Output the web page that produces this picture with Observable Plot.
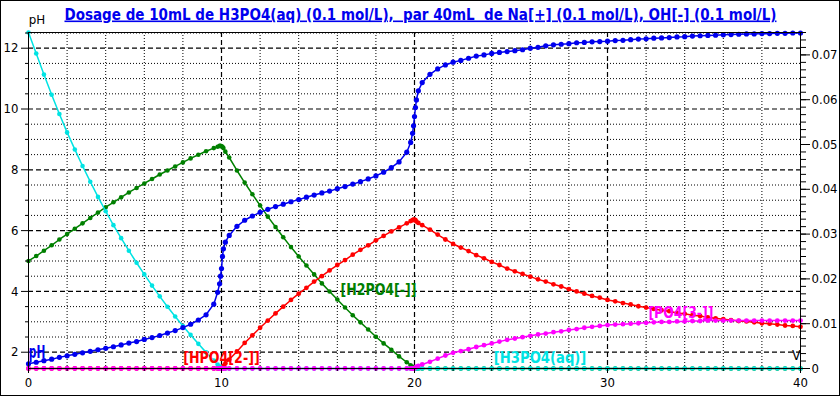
<!DOCTYPE html>
<html>
<head>
<meta charset="utf-8">
<script src="https://cdn.jsdelivr.net/npm/d3@7"></script>
<script src="https://cdn.jsdelivr.net/npm/@observablehq/plot@0.6"></script>
<style>
  html, body { margin: 0; padding: 0; background: #fff; }
  #chart svg { display: block; outline: 1px solid #000; outline-offset: -1px; }
  #chart svg g[aria-label="x-axis tick label"],
  #chart svg g[aria-label="y-axis tick label"] { font-size: 13px; }
</style>
</head>
<body>
<div id="chart"></div>
<script>
// ---- data ----
const title = "Dosage de 10mL de H3PO4(aq) (0.1 mol/L),  par 40mL  de Na[+] (0.1 mol/L), OH[-] (0.1 mol/L)";

// added volume (mL)
const V = [
  0,0.4,0.8,1.2,1.6, 2,2.4,2.8,3.2,3.6, 4,4.4,4.8,5.2,5.6, 6,6.4,6.8,7.2,7.6, 8,8.4,8.8,9.2,9.6,
  9.8,9.9,9.95,10,10.05,10.1,10.2,
  10.4,10.8,11.2,11.6,12,12.4, 12.8,13.2,13.6,14,14.4,14.8, 15.2,15.6,16,16.4,16.8,17.2, 17.6,18,18.4,18.8,19.2,19.6,
  19.8,19.9,19.95,20,20.05,20.1,20.2,
  20.4,20.8,21.2,21.6,22, 22.4,22.8,23.2,23.6,24, 24.4,24.8,25.2,25.6,26, 26.4,26.8,27.2,27.6,28, 28.4,28.8,29.2,29.6,30,
  30.4,30.8,31.2,31.6,32, 32.4,32.8,33.2,33.6,34, 34.4,34.8,35.2,35.6,36, 36.4,36.8,37.2,37.6,38, 38.4,38.8,39.2,39.6,40
];
// pH (left axis)
const pH = [
  1.62,1.67,1.72,1.77,1.83, 1.88,1.93,1.98,2.03,2.08, 2.13,2.18,2.24,2.30,2.35, 2.42,2.48,2.55,2.63,2.71, 2.81,2.92,3.06,3.23,3.58,
  3.97,4.25,4.5,4.75,5.15,5.4,5.62,
  5.84,6.14,6.34,6.48,6.60,6.70, 6.79,6.87,6.95,7.02,7.10,7.17, 7.24,7.30,7.38,7.45,7.53,7.61, 7.70,7.80,7.92,8.07,8.26,8.58,
  8.9,9.2,9.45,9.75,10.05,10.3,10.6,
  10.87,11.14,11.32,11.45,11.54, 11.60,11.67,11.74,11.78,11.83, 11.86,11.89,11.92,11.95,12.00, 12.03,12.08,12.11,12.13,12.15, 12.18,12.19,12.21,12.22,12.23,
  12.25,12.26,12.28,12.30,12.31, 12.33,12.34,12.35,12.37,12.38, 12.40,12.41,12.42,12.43,12.44, 12.45,12.46,12.47,12.47,12.48, 12.48,12.49,12.49,12.50,12.50
];
// concentrations (mol/L, right axis)
const cH3PO4 = [
  0.075,0.0703,0.0656,0.0611,0.0568, 0.0527,0.0489,0.0452,0.0417,0.0383, 0.0351,0.0320,0.0291,0.0263,0.0236, 0.0210,0.0185,0.0161,0.0138,0.0116, 0.0095,0.0075,0.0055,0.0036,0.0018,
  0.0009,0.00045,0.0002,0.00005,0,0,0,
  0,0,0,0,0,0, 0,0,0,0,0,0, 0,0,0,0,0,0, 0,0,0,0,0,0,
  0,0,0,0,0,0,0,
  0,0,0,0,0, 0,0,0,0,0, 0,0,0,0,0, 0,0,0,0,0, 0,0,0,0,0,
  0,0,0,0,0, 0,0,0,0,0, 0,0,0,0,0, 0,0,0,0,0, 0,0,0,0,0
];
const cH2PO4 = [
  0.0240,0.0251,0.0263,0.0275,0.0288, 0.0300,0.0312,0.0324,0.0336,0.0348, 0.0360,0.0371,0.0382,0.0393,0.0403, 0.0413,0.0423,0.0433,0.0442,0.0451, 0.0460,0.0469,0.0477,0.0485,0.0492,
  0.0495,0.0497,0.0497,0.0496,0.0495,0.0492,0.0484,
  0.0471,0.0442,0.0415,0.0389,0.0364,0.0339, 0.0316,0.0293,0.0271,0.0250,0.0230,0.0210, 0.0190,0.0172,0.0154,0.0136,0.0119,0.0103, 0.0087,0.0071,0.0056,0.0042,0.0027,0.0014,
  0.0007,0.0004,0.0003,0.0001,0,0,0,
  0,0,0,0,0, 0,0,0,0,0, 0,0,0,0,0, 0,0,0,0,0, 0,0,0,0,0,
  0,0,0,0,0, 0,0,0,0,0, 0,0,0,0,0, 0,0,0,0,0, 0,0,0,0,0
];
const cHPO4 = [
  0,0,0,0,0, 0,0,0,0,0, 0,0,0,0,0, 0,0,0,0,0, 0,0,0,0,0,
  0,0,0.0001,0.0002,0.0004,0.0006,0.0011,
  0.0020,0.0038,0.0057,0.0074,0.0091,0.0107, 0.0123,0.0138,0.0153,0.0167,0.0180,0.0194, 0.0206,0.0219,0.0231,0.0242,0.0254,0.0265, 0.0275,0.0286,0.0296,0.0306,0.0315,0.0324,
  0.0329,0.0331,0.0332,0.0332,0.0331,0.0328,0.0325,
  0.0320,0.0310,0.0299,0.0288,0.0278, 0.0270,0.0262,0.0253,0.0246,0.0238, 0.0231,0.0223,0.0217,0.0211,0.0205, 0.0199,0.0194,0.0188,0.0183,0.0177, 0.0172,0.0167,0.0162,0.0158,0.0153,
  0.0150,0.0146,0.0143,0.0139,0.0136, 0.0133,0.0130,0.0128,0.0124,0.0122, 0.0119,0.0117,0.0114,0.0112,0.0110, 0.0108,0.0106,0.0105,0.0103,0.0101, 0.0100,0.0098,0.0096,0.0095,0.0093
];
const cPO4 = [
  0,0,0,0,0, 0,0,0,0,0, 0,0,0,0,0, 0,0,0,0,0, 0,0,0,0,0,
  0,0,0,0,0,0,0,
  0,0,0,0,0,0, 0,0,0,0,0,0, 0,0,0,0,0,0, 0,0,0,0,0,0,
  0,0,0,0,0.0002,0.0004,0.0006,
  0.0009,0.0015,0.0022,0.0029,0.0035, 0.0039,0.0043,0.0048,0.0052,0.0056, 0.0060,0.0064,0.0067,0.0070,0.0073, 0.0076,0.0078,0.0081,0.0083,0.0086, 0.0088,0.0091,0.0093,0.0095,0.0097,
  0.0098,0.0099,0.0100,0.0101,0.0102, 0.0103,0.0104,0.0104,0.0105,0.0105, 0.0106,0.0106,0.0107,0.0107,0.0107, 0.0107,0.0107,0.0107,0.0107,0.0107, 0.0107,0.0107,0.0107,0.0107,0.0107
];

// tick labels
const xTickLabels = [0, 10, 20, 30, 40];
const pHTickLabels = [2, 4, 6, 8, 10, 12];
const concTickLabels = [0, 0.01, 0.02, 0.03, 0.04, 0.05, 0.06, 0.07];
const speciesLabels = ["[H2PO4[-]]", "[HPO4[2-]]", "[H3PO4(aq)]", "[PO4[3-]]"];

// ---- drawing ----
const FONT = "'DejaVu Sans Condensed', 'DejaVu Sans', sans-serif";
const COL = {pH: "#0000ee", H3PO4: "#00e3e3", H2PO4: "#008000", HPO4: "#ff0000", PO4: "#ff00ff"};

// pH axis (left) mapped onto the concentration axis (right)
const toC = d3.scaleLinear().domain([1.464, 12.517]).range([0, 0.075]);

const rows = vals => V.map((v, i) => ({V: v, c: vals[i]}));
const series = [
  {key: "H2PO4", rows: rows(cH2PO4), r: 2.3},
  {key: "HPO4", rows: rows(cHPO4), r: 2.4},
  {key: "H3PO4", rows: rows(cH3PO4), r: 2.3},
  {key: "PO4", rows: rows(cPO4), r: 2.4},
  {key: "pH", rows: rows(pH.map(toC)), r: 2.6}
];

const xMinor = d3.range(2, 40, 2).filter(d => d % 10 !== 0);
const xMajor = [10, 20, 30];
const pHHalf = d3.range(2, 12.51, 0.5);
const pHMinor = pHHalf.filter(d => d % 2 !== 0);
const concMinor = d3.range(0, 0.0751, 0.01 / 6);

const dotted = {stroke: "#000", strokeWidth: 1, strokeDasharray: "1,2"};
const dashed = {stroke: "#000", strokeWidth: 1.2, strokeDasharray: "5,3"};

const labelMarks = [
  {text: title, x: 20.31, y: 0.0779, fill: COL.pH, size: 16, bold: true, anchor: "middle", w: 712, underline: true},
  {text: speciesLabels[0], x: 16.166, y: 0.01641, fill: COL.H2PO4, size: 16, bold: true, anchor: "start", w: 76},
  {text: speciesLabels[1], x: 8.016, y: 0.00123, fill: COL.HPO4, size: 16, bold: true, anchor: "start", w: 76.5},
  {text: speciesLabels[2], x: 24.11, y: 0.00123, fill: COL.H3PO4, size: 16, bold: true, anchor: "start", w: 92.5},
  {text: speciesLabels[3], x: 32.12, y: 0.01132, fill: COL.PO4, size: 16, bold: true, anchor: "start", w: 65},
  {text: "pH", x: 0.016, y: 0.00239, fill: COL.pH, size: 17, bold: true, anchor: "start", w: 21.5},
  {text: "V", x: 40, y: 0.00194, fill: "#000", size: 14, bold: false, anchor: "end", w: null},
  {text: "pH", x: 0.016, y: 0.07679, fill: "#000", size: 13, bold: false, anchor: "start", w: 16.5}
];

const svg = Plot.plot({
  width: 840,
  height: 396,
  marginLeft: 28,
  marginRight: 40,
  marginTop: 32,
  marginBottom: 28,
  style: {fontFamily: FONT, fontSize: "13px", background: "#fff", color: "#000", overflow: "visible"},
  x: {domain: [0, 40]},
  y: {domain: [0, 0.075]},
  marks: [
    // grid
    Plot.ruleX(xMinor, dotted),
    Plot.ruleX(xMajor, dashed),
    Plot.ruleY(pHMinor.map(toC), dotted),
    Plot.ruleY(pHTickLabels.map(toC), dashed),
    // series
    ...series.flatMap(s => [
      Plot.line(s.rows, {x: "V", y: "c", stroke: COL[s.key], strokeWidth: 1.5}),
      Plot.dot(s.rows, {x: "V", y: "c", fill: COL[s.key], r: s.r})
    ]),
    Plot.frame({stroke: "#000"}),
    // bottom axis
    Plot.axisX({ticks: xTickLabels, tickSize: 5, tickPadding: 4, label: null}),
    Plot.axisX({ticks: xMinor, tickSize: 3, tickFormat: () => "", label: null}),
    // left pH axis
    Plot.axisY({anchor: "left", ticks: pHTickLabels.map(toC), tickSize: 7, tickPadding: 3,
      tickFormat: d => String(Math.round(toC.invert(d))), label: null}),
    Plot.axisY({anchor: "left", ticks: pHMinor.map(toC), tickSize: 3, tickFormat: () => "", label: null}),
    // right concentration axis
    Plot.axisY({anchor: "right", ticks: concTickLabels, tickSize: 9, tickPadding: 2,
      tickFormat: d => d === 0 ? "0" : d3.format(".2f")(d), label: null}),
    Plot.axisY({anchor: "right", ticks: concMinor, tickSize: 5, tickFormat: () => "", label: null}),
    // labels
    ...labelMarks.map(l => Plot.text([l.text], {
      x: l.x, y: l.y, text: d => d, fill: l.fill, fontSize: l.size,
      fontWeight: l.bold ? "bold" : "normal", textAnchor: l.anchor, lineAnchor: "bottom",
      fontFamily: FONT
    }))
  ]
});

const sel = d3.select(svg);
labelMarks.forEach(l => {
  const t = sel.selectAll("text").filter(function () { return this.textContent === l.text; });
  t.style("white-space", "pre");
  if (l.w) t.attr("textLength", l.w).attr("lengthAdjust", "spacingAndGlyphs");
  if (l.underline) t.style("text-decoration", "underline");
});

document.getElementById("chart").appendChild(svg);
</script>
</body>
</html>
